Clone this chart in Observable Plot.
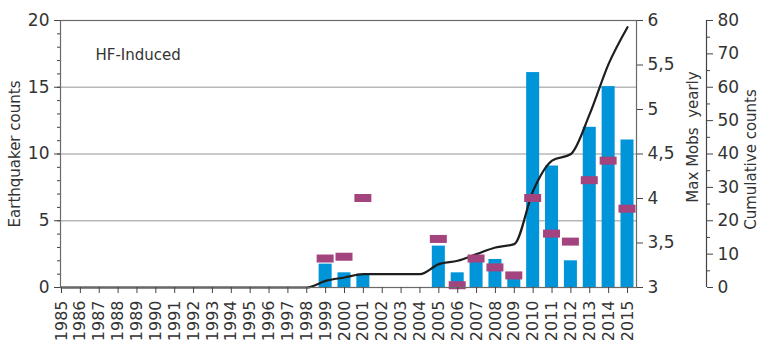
<!DOCTYPE html>
<html>
<head>
<meta charset="utf-8">
<script src="https://cdn.jsdelivr.net/npm/d3@7"></script>
<script src="https://cdn.jsdelivr.net/npm/@observablehq/plot@0.6"></script>
<style>
  html, body { margin: 0; padding: 0; background: #fff; }
  #chart { width: 761px; height: 344px; overflow: hidden; }
</style>
</head>
<body>
<div id="chart"></div>
<script>
const years = [1985,1986,1987,1988,1989,1990,1991,1992,1993,1994,1995,1996,1997,1998,1999,2000,2001,2002,2003,2004,2005,2006,2007,2008,2009,2010,2011,2012,2013,2014,2015];
const counts = [0,0,0,0,0,0,0,0,0,0,0,0,0,0,1.75,1.1,1.0,0,0,0,3.1,1.1,2.0,2.1,0.7,16.1,9.1,2.0,12.0,15.05,11.05];
const maxMobs = [null,null,null,null,null,null,null,null,null,null,null,null,null,null,3.32,3.34,4.0,null,null,null,3.54,3.02,3.32,3.22,3.13,4.0,3.6,3.51,4.2,4.42,3.88];
const cumulative = [0,0,0,0,0,0,0,0,0,0,0,0,0,0,2,3,4,4,4,4,7,8,10,12,13,29,38,40,52,67,78];

const countTicks = [0,5,10,15,20];
const countMinorTicks = [0,1,2,3,4,5,6,7,8,9,10,11,12,13,14,15,16,17,18,19,20];
const mobsTicks = [3,3.5,4,4.5,5,5.5,6];
const cumTicks = [0,10,20,30,40,50,60,70,80];
const cumMinorTicks = [5,15,25,35,45,55,65,75];

// secondary scales mapped onto the primary (count) scale
const mobsToY = m => (m - 3) * 20 / 3;
const yToMobs = y => y * 3 / 20 + 3;
const cumToY = c => c * 20 / 80;
const yToCum = y => y * 80 / 20;

const rows = years.map((year, i) => ({year, count: counts[i], mobs: maxMobs[i], cum: cumulative[i]}));
const xDomain = [1984.947, 2015.477];

const chart = Plot.plot({
  width: 761,
  height: 344,
  marginLeft: 60,
  marginRight: 125,
  marginTop: 20,
  marginBottom: 57,
  style: {fontFamily: "DejaVu Sans", fontSize: "17px", color: "#333", background: "#fff"},
  x: {domain: xDomain},
  y: {domain: [0, 20]},
  marks: [
    Plot.gridY(countTicks.filter(d => d > 0 && d < 20), {stroke: "#b8b8b8", strokeOpacity: 1, strokeWidth: 1.5}),
    Plot.rectY(rows, {x1: d => d.year - 0.345, x2: d => d.year + 0.345, y: "count", fill: "#0095d9"}),
    Plot.line(rows, {x: "year", y: d => cumToY(d.cum), curve: "monotone-x", stroke: "#1e1e1e", strokeWidth: 2.2}),
    Plot.rect(rows.filter(d => d.mobs != null), {
      x1: d => d.year - 0.45, x2: d => d.year + 0.45,
      y1: d => mobsToY(d.mobs) - 0.3, y2: d => mobsToY(d.mobs) + 0.3,
      fill: "#a4447f"
    }),
    Plot.frame({stroke: "#6a6a6a", strokeWidth: 1.2}),
    Plot.ruleX([xDomain[1]], {dx: 70, y1: 0, y2: 20, stroke: "#444", strokeWidth: 1.2}),
    Plot.axisX(years, {tickRotate: -90, tickFormat: d => String(d), tickSize: 6, tickPadding: 7, fontSize: 16, label: null, stroke: "#444"}),
    Plot.axisY(countTicks, {tickSize: 6, tickPadding: 5, label: null, stroke: "#444"}),
    Plot.axisY(countMinorTicks, {tickSize: 3, tickFormat: () => "", label: null, stroke: "#444"}),
    Plot.axisY(mobsTicks.map(mobsToY), {anchor: "right", tickSize: 6, tickPadding: 5, label: null, stroke: "#444",
      tickFormat: y => String(+yToMobs(y).toFixed(1)).replace(".", ",")}),
    Plot.axisY(cumTicks.map(cumToY), {anchor: "right", dx: 70, tickSize: 6, tickPadding: 5, label: null, stroke: "#444",
      tickFormat: y => String(Math.round(yToCum(y)))}),
    Plot.axisY(cumMinorTicks.map(cumToY), {anchor: "right", dx: 70, tickSize: 3, tickFormat: () => "", label: null, stroke: "#444"}),
    Plot.text(["Earthquaker counts"], {frameAnchor: "left", dx: -45, rotate: -90, textAnchor: "middle", fontSize: 15, fill: "#333"}),
    Plot.text(["Max Mobs  yearly"], {frameAnchor: "right", dx: 57, dy: -17, rotate: -90, textAnchor: "middle", fontSize: 15, fill: "#333"}),
    Plot.text(["Cumulative counts"], {frameAnchor: "right", dx: 115, dy: 5.5, rotate: -90, textAnchor: "middle", fontSize: 15, fill: "#333"}),
    Plot.text(["HF-Induced"], {frameAnchor: "top-left", dx: 35, dy: 29, textAnchor: "start", fontSize: 15, fill: "#333"})
  ]
});
document.getElementById("chart").append(chart);
</script>
</body>
</html>
